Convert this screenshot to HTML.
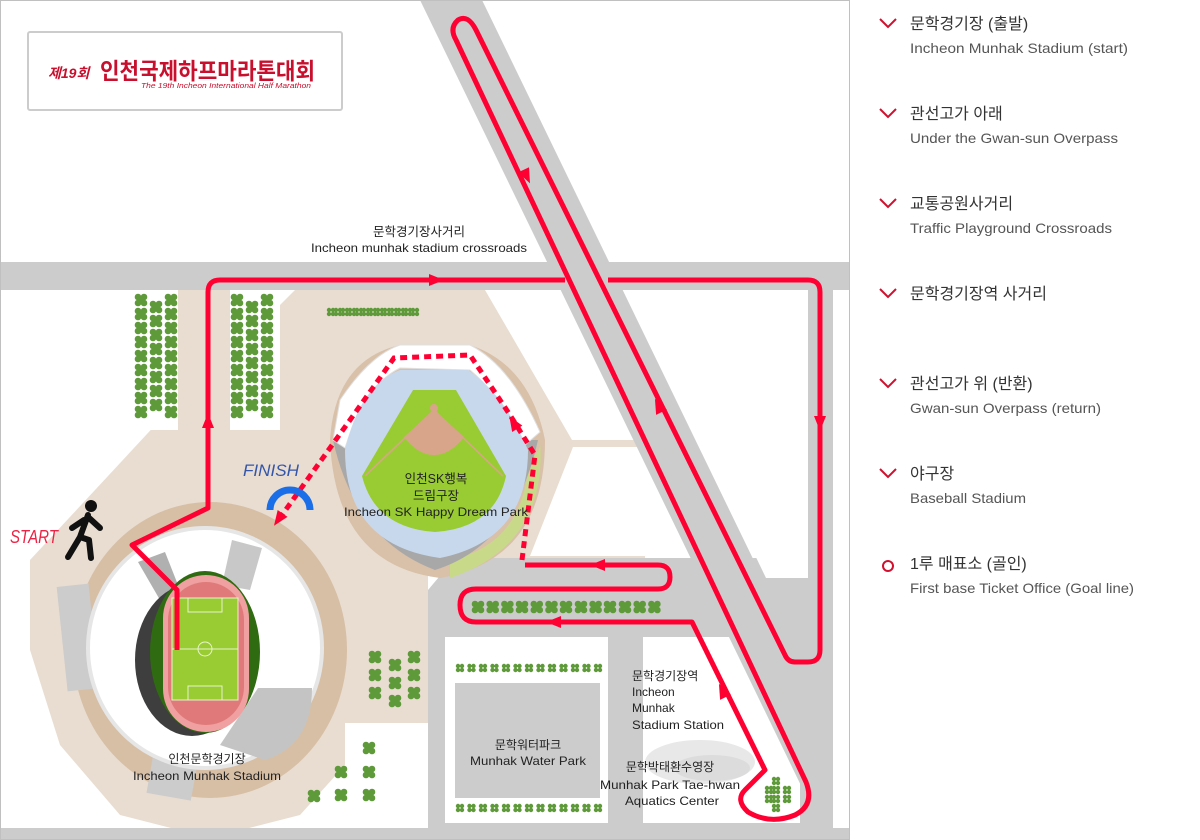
<!DOCTYPE html>
<html><head><meta charset="utf-8"><style>
html,body{margin:0;padding:0;background:#fff;}
body{width:1200px;height:840px;overflow:hidden;position:relative;font-family:"Liberation Sans","Noto Sans CJK KR",sans-serif;}
svg{position:absolute;left:0;top:0;}
</style></head><body>
<svg width="1200" height="840" viewBox="0 0 1200 840" xmlns="http://www.w3.org/2000/svg">
<defs>
<g id="t"><circle cx="-3" cy="-3" r="3.3" fill="#5e9a3a"/><circle cx="3" cy="-3" r="3.3" fill="#5e9a3a"/><circle cx="-3" cy="3" r="3.3" fill="#5e9a3a"/><circle cx="3" cy="3" r="3.3" fill="#5e9a3a"/><circle cx="0" cy="0" r="3" fill="#5e9a3a"/></g>
<g id="ts"><circle cx="-2" cy="-2" r="2.2" fill="#5e9a3a"/><circle cx="2" cy="-2" r="2.2" fill="#5e9a3a"/><circle cx="-2" cy="2" r="2.2" fill="#5e9a3a"/><circle cx="2" cy="2" r="2.2" fill="#5e9a3a"/></g>
<path id="ar" d="M-8,-6 L7,0 L-8,6 Z" fill="#ff0033"/>
<clipPath id="mc"><rect x="1" y="1" width="848" height="838"/></clipPath>
</defs>
<g clip-path="url(#mc)">
<rect x="0" y="0" width="850" height="840" fill="#fff"/>
<path d="M30,560 L160,420 L160,290 L485,290 L572,440 L645,440 L645,560 L428,560 L428,723 L345,723 L345,765 L300,815 L210,838 L120,815 L60,745 L30,650 Z" fill="#e9ddd1"/>
<rect x="128" y="290" width="50" height="140" fill="#fff"/>
<path d="M230,290 L295,290 L280,305 L280,430 L230,430 Z" fill="#fff"/>
<path d="M573,447 L645,447 L645,556 L530,556 Z" fill="#fff"/>
<path d="M455,558 L850,558 L850,840 L428,840 L428,590 Z" fill="#cccccc"/>
<rect x="445" y="637" width="163" height="186" fill="#fff"/>
<rect x="455" y="683" width="145" height="115" fill="#cccccc"/>
<path d="M643,637 L735,637 L800,770 L800,823 L643,823 Z" fill="#fff"/>
<ellipse cx="700" cy="762" rx="55" ry="22" fill="#e8e8e8"/>
<ellipse cx="712" cy="768" rx="38" ry="13" fill="#dcdcdc"/>
<rect x="0" y="262" width="850" height="28" fill="#cccccc"/>
<polygon points="420,0 482,0 870,800 808,800" fill="#cccccc"/>
<path d="M627,290 L800,290 Q808,290 808,298 L808,578 L766,578 Z" fill="#fff"/>
<rect x="808" y="262" width="25" height="578" fill="#cccccc"/>
<rect x="833" y="290" width="17" height="550" fill="#fff"/>
<rect x="0" y="828" width="850" height="12" fill="#cccccc"/>
<ellipse cx="210" cy="650" rx="137" ry="148" fill="#d7bfa6"/>
<rect x="62" y="585" width="32" height="105" fill="#cccccc" transform="rotate(-6 78 637)"/>
<rect x="150" y="752" width="45" height="45" fill="#cccccc" transform="rotate(10 172 775)"/>
<ellipse cx="205" cy="648" rx="117" ry="120" fill="#fff" stroke="#e6e6e6" stroke-width="4"/>
<path d="M258,688 L312,688 Q312,745 265,760 L220,745 Z" fill="#c4c4c4"/>
<path d="M232,540 L262,548 L250,590 L222,585 Z" fill="#c8c8c8"/>
<path d="M138,562 L165,552 L180,590 L160,600 Z" fill="#b0b0b0"/>
<ellipse cx="192" cy="660" rx="57" ry="76" fill="#3e3e3e"/>
<ellipse cx="205" cy="652" rx="55" ry="81" fill="#2f6b10"/>
<rect x="163" y="575" width="86" height="157" rx="43" fill="#f0a0a0"/>
<rect x="168" y="582" width="76" height="143" rx="38" fill="#e07a7a"/>
<rect x="172" y="598" width="66" height="102" fill="#99cc33" stroke="#e8f3cc" stroke-width="1"/>
<line x1="172" y1="649" x2="238" y2="649" stroke="#e8f3cc" stroke-width="1"/>
<circle cx="205" cy="649" r="7" fill="none" stroke="#e8f3cc" stroke-width="1"/>
<rect x="188" y="598" width="34" height="14" fill="none" stroke="#e8f3cc" stroke-width="1"/>
<rect x="188" y="686" width="34" height="14" fill="none" stroke="#e8f3cc" stroke-width="1"/>
<path d="M330,440 Q335,360 400,345 L470,345 Q530,365 545,440 Q545,560 440,578 Q335,565 330,440 Z" fill="#d9c0a8"/>
<path d="M455,470 Q545,470 540,440 Q548,545 450,578 L450,560 Q520,545 528,470 Z" fill="#c9d98a"/>
<path d="M333,440 Q355,540 435,570 Q515,545 538,440 Z" fill="#a8a8a8"/>
<path d="M333,440 L340,400 Q370,355 400,345 L470,345 Q510,365 540,432 L525,445 Q500,395 470,370 L400,368 Q365,385 345,448 Z" fill="#fff" stroke="#e0e0e0" stroke-width="1"/>
<path d="M345,450 Q360,385 400,370 L468,370 Q505,395 528,450 Q528,540 440,558 Q345,545 345,450 Z" fill="#c8d8ec"/>
<path d="M362,476 L413,390 L456,390 L506,476 Q495,528 435,532 Q375,528 362,476 Z" fill="#99cc33"/>
<path d="M404,437 L434,410 L464,437 Q450,455 434,455 Q418,455 404,437 Z" fill="#d9a58a"/>
<circle cx="434" cy="408" r="4" fill="#d9a58a"/>
<path d="M365,476 L434,410 L503,476" fill="none" stroke="#d9a58a" stroke-width="1.5"/>
<g>
<use href="#t" x="141" y="300"/><use href="#t" x="141" y="314"/><use href="#t" x="141" y="328"/><use href="#t" x="141" y="342"/><use href="#t" x="141" y="356"/><use href="#t" x="141" y="370"/><use href="#t" x="141" y="384"/><use href="#t" x="141" y="398"/><use href="#t" x="141" y="412"/>
<use href="#t" x="156" y="307"/><use href="#t" x="156" y="321"/><use href="#t" x="156" y="335"/><use href="#t" x="156" y="349"/><use href="#t" x="156" y="363"/><use href="#t" x="156" y="377"/><use href="#t" x="156" y="391"/><use href="#t" x="156" y="405"/>
<use href="#t" x="171" y="300"/><use href="#t" x="171" y="314"/><use href="#t" x="171" y="328"/><use href="#t" x="171" y="342"/><use href="#t" x="171" y="356"/><use href="#t" x="171" y="370"/><use href="#t" x="171" y="384"/><use href="#t" x="171" y="398"/><use href="#t" x="171" y="412"/>
<use href="#t" x="237" y="300"/><use href="#t" x="237" y="314"/><use href="#t" x="237" y="328"/><use href="#t" x="237" y="342"/><use href="#t" x="237" y="356"/><use href="#t" x="237" y="370"/><use href="#t" x="237" y="384"/><use href="#t" x="237" y="398"/><use href="#t" x="237" y="412"/>
<use href="#t" x="252" y="307"/><use href="#t" x="252" y="321"/><use href="#t" x="252" y="335"/><use href="#t" x="252" y="349"/><use href="#t" x="252" y="363"/><use href="#t" x="252" y="377"/><use href="#t" x="252" y="391"/><use href="#t" x="252" y="405"/>
<use href="#t" x="267" y="300"/><use href="#t" x="267" y="314"/><use href="#t" x="267" y="328"/><use href="#t" x="267" y="342"/><use href="#t" x="267" y="356"/><use href="#t" x="267" y="370"/><use href="#t" x="267" y="384"/><use href="#t" x="267" y="398"/><use href="#t" x="267" y="412"/>
<use href="#ts" x="331" y="312"/><use href="#ts" x="338" y="312"/><use href="#ts" x="345" y="312"/><use href="#ts" x="352" y="312"/><use href="#ts" x="359" y="312"/><use href="#ts" x="366" y="312"/><use href="#ts" x="373" y="312"/><use href="#ts" x="380" y="312"/><use href="#ts" x="387" y="312"/><use href="#ts" x="394" y="312"/><use href="#ts" x="401" y="312"/><use href="#ts" x="408" y="312"/><use href="#ts" x="415" y="312"/>
<use href="#t" x="478" y="607"/><use href="#t" x="492.7" y="607"/><use href="#t" x="507.4" y="607"/><use href="#t" x="522" y="607"/><use href="#t" x="536.8" y="607"/><use href="#t" x="551.5" y="607"/><use href="#t" x="566" y="607"/><use href="#t" x="581" y="607"/><use href="#t" x="595.6" y="607"/><use href="#t" x="610" y="607"/><use href="#t" x="625" y="607"/><use href="#t" x="639.7" y="607"/><use href="#t" x="654.4" y="607"/>
<use href="#ts" x="460" y="668"/><use href="#ts" x="471.5" y="668"/><use href="#ts" x="483" y="668"/><use href="#ts" x="494.5" y="668"/><use href="#ts" x="506" y="668"/><use href="#ts" x="517.5" y="668"/><use href="#ts" x="529" y="668"/><use href="#ts" x="540.5" y="668"/><use href="#ts" x="552" y="668"/><use href="#ts" x="563.5" y="668"/><use href="#ts" x="575" y="668"/><use href="#ts" x="586.5" y="668"/><use href="#ts" x="598" y="668"/>
<use href="#ts" x="460" y="808"/><use href="#ts" x="471.5" y="808"/><use href="#ts" x="483" y="808"/><use href="#ts" x="494.5" y="808"/><use href="#ts" x="506" y="808"/><use href="#ts" x="517.5" y="808"/><use href="#ts" x="529" y="808"/><use href="#ts" x="540.5" y="808"/><use href="#ts" x="552" y="808"/><use href="#ts" x="563.5" y="808"/><use href="#ts" x="575" y="808"/><use href="#ts" x="586.5" y="808"/><use href="#ts" x="598" y="808"/>
<use href="#t" x="375" y="657"/><use href="#t" x="375" y="675"/><use href="#t" x="375" y="693"/><use href="#t" x="395" y="665"/><use href="#t" x="395" y="683"/><use href="#t" x="395" y="701"/><use href="#t" x="414" y="657"/><use href="#t" x="414" y="675"/><use href="#t" x="414" y="693"/>
<use href="#t" x="369" y="748"/><use href="#t" x="369" y="772"/><use href="#t" x="369" y="795"/><use href="#t" x="341" y="772"/><use href="#t" x="341" y="795"/><use href="#t" x="314" y="796"/>
<use href="#ts" x="776" y="781"/><use href="#ts" x="769" y="790"/><use href="#ts" x="776" y="790"/><use href="#ts" x="787" y="790"/><use href="#ts" x="769" y="799"/><use href="#ts" x="776" y="799"/><use href="#ts" x="787" y="799"/><use href="#ts" x="776" y="808"/>
</g>
<path d="M177,650 L177,590 L132,545 L208,508 L208,292 Q208,280 220,280 L565,280 M608,280 L808,280 Q820,280 820,292 L820,650 Q820,662 808,662 L795,662 Q788,662 785,655 L476,30 Q468,14 458,20 Q449,28 456,40 L806,782 Q815,805 795,815 Q770,825 748,812 Q735,800 745,790 L765,770 L692,622 L476,622 Q460,622 460,605 Q460,589 476,589 L658,589 Q670,589 670,577 Q670,565 658,565 L525,565" fill="none" stroke="#ff0033" stroke-width="5" stroke-linejoin="round"/>
<path d="M522,560 L535,455 L510,415 L470,355 L394,358 L350,420 L282,515" fill="none" stroke="#ff0033" stroke-width="5" stroke-dasharray="7 5"/>
<use href="#ar" transform="translate(208,420) rotate(-90)"/>
<use href="#ar" transform="translate(437,280)"/>
<use href="#ar" transform="translate(527,177) rotate(64.8)"/>
<use href="#ar" transform="translate(658,405) rotate(-116)"/>
<use href="#ar" transform="translate(820,424) rotate(90)"/>
<use href="#ar" transform="translate(722,690) rotate(-116)"/>
<use href="#ar" transform="translate(553,622) rotate(180)"/>
<use href="#ar" transform="translate(597,565) rotate(180)"/>
<use href="#ar" transform="translate(513,422) rotate(-122)"/>
<use href="#ar" transform="translate(278,520) rotate(125)"/>
<path d="M270,510 A20,20 0 0 1 310,510" fill="none" stroke="#1a6fe8" stroke-width="7"/>
<text x="243" y="476" font-size="17" font-style="italic" fill="#3355aa" textLength="56" lengthAdjust="spacingAndGlyphs">FINISH</text>
<text x="10" y="543" font-size="18" font-style="italic" fill="#ee2244" textLength="48" lengthAdjust="spacingAndGlyphs">START</text>
<circle cx="91" cy="506" r="6" fill="#111"/>
<path d="M88,515 L80,537 M84,520 L72,528 M88,517 L100,528 M80,537 L68,557 M80,537 L89,540 L91,558" fill="none" stroke="#111" stroke-width="6" stroke-linecap="round" stroke-linejoin="round"/>
<g font-size="12" fill="#222" text-anchor="middle">
<text x="419" y="236" font-size="12.5">문학경기장사거리</text>
<text x="419" y="252" textLength="216" lengthAdjust="spacingAndGlyphs">Incheon munhak stadium crossroads</text>
<text x="436" y="483" font-size="12.5">인천SK행복</text>
<text x="436" y="500" font-size="12.5">드림구장</text>
<text x="436" y="516" textLength="184" lengthAdjust="spacingAndGlyphs">Incheon SK Happy Dream Park</text>
<text x="207" y="763">인천문학경기장</text>
<text x="207" y="780" textLength="148" lengthAdjust="spacingAndGlyphs">Incheon Munhak Stadium</text>
<text x="528" y="749">문학워터파크</text>
<text x="528" y="765" textLength="116" lengthAdjust="spacingAndGlyphs">Munhak Water Park</text>
<text x="670" y="771">문학박태환수영장</text>
<text x="670" y="789" textLength="140" lengthAdjust="spacingAndGlyphs">Munhak Park Tae-hwan</text>
<text x="672" y="805" textLength="94" lengthAdjust="spacingAndGlyphs">Aquatics Center</text>
</g>
<g font-size="12" fill="#222">
<text x="632" y="680">문학경기장역</text>
<text x="632" y="696">Incheon</text>
<text x="632" y="712">Munhak</text>
<text x="632" y="729" textLength="92" lengthAdjust="spacingAndGlyphs">Stadium Station</text>
</g>
<rect x="28" y="32" width="314" height="78" rx="2" fill="#fff" stroke="#cccccc" stroke-width="2"/>
<text x="48" y="78" font-size="14" font-weight="bold" fill="#c8102e" font-style="italic">제19회</text>
<text x="100" y="79" font-size="23" font-weight="bold" fill="#c8102e" textLength="215" lengthAdjust="spacingAndGlyphs">인천국제하프마라톤대회</text>
<text x="141" y="88" font-size="7" font-style="italic" fill="#c8102e" textLength="170" lengthAdjust="spacingAndGlyphs">The 19th Incheon International Half Marathon</text>
</g>
<rect x="0.5" y="0.5" width="849" height="839" fill="none" stroke="#c0c0c0" stroke-width="1"/>
<g fill="none" stroke="#d0102e" stroke-width="2">
<path d="M880,19 L888,27 L896,19"/>
<path d="M880,109 L888,117 L896,109"/>
<path d="M880,199 L888,207 L896,199"/>
<path d="M880,289 L888,297 L896,289"/>
<path d="M880,379 L888,387 L896,379"/>
<path d="M880,469 L888,477 L896,469"/>
<circle cx="888" cy="566" r="5"/>
</g>
<g font-size="16" fill="#333">
<text x="910" y="29">문학경기장 (출발)</text>
<text x="910" y="119">관선고가 아래</text>
<text x="910" y="209">교통공원사거리</text>
<text x="910" y="299">문학경기장역 사거리</text>
<text x="910" y="389">관선고가 위 (반환)</text>
<text x="910" y="479">야구장</text>
<text x="910" y="569">1루 매표소 (골인)</text>
</g>
<g font-size="14" fill="#555">
<text x="910" y="53" textLength="218" lengthAdjust="spacingAndGlyphs">Incheon Munhak Stadium (start)</text>
<text x="910" y="143" textLength="208" lengthAdjust="spacingAndGlyphs">Under the Gwan-sun Overpass</text>
<text x="910" y="233" textLength="202" lengthAdjust="spacingAndGlyphs">Traffic Playground Crossroads</text>
<text x="910" y="413" textLength="191" lengthAdjust="spacingAndGlyphs">Gwan-sun Overpass (return)</text>
<text x="910" y="503" textLength="116" lengthAdjust="spacingAndGlyphs">Baseball Stadium</text>
<text x="910" y="593" textLength="224" lengthAdjust="spacingAndGlyphs">First base Ticket Office (Goal line)</text>
</g>
</svg>
</body></html>
